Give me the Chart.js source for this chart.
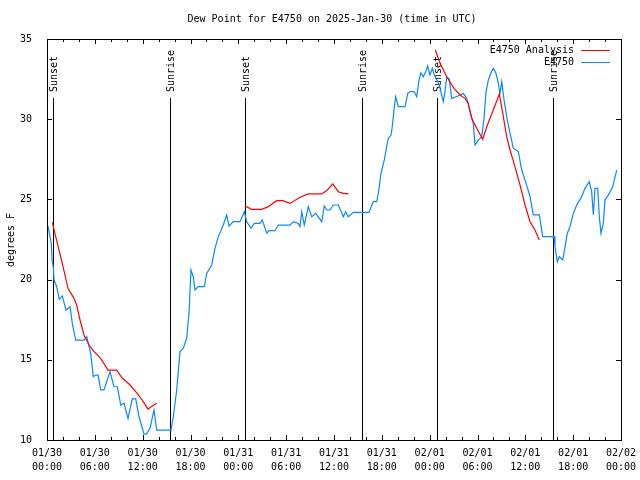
<!DOCTYPE html>
<html>
<head>
<meta charset="utf-8">
<script src="https://cdn.jsdelivr.net/npm/chart.js@4/dist/chart.umd.min.js"></script>
<style>
html,body{margin:0;padding:0;background:#fff;}
#c{display:block;}
</style>
</head>
<body>
<canvas id="c" width="640" height="480"></canvas>
<script>
// ---- DATA (hours since 2025-01-30 00:00 UTC) ----
const chartTitle = "Dew Point for E4750 on 2025-Jan-30 (time in UTC)";
const yAxisLabel = "degrees F";
const seriesNames = ["E4750 Analysis", "E4750"];

const xTickLabels = [
  ["01/30","00:00"],["01/30","06:00"],["01/30","12:00"],["01/30","18:00"],
  ["01/31","00:00"],["01/31","06:00"],["01/31","12:00"],["01/31","18:00"],
  ["02/01","00:00"],["02/01","06:00"],["02/01","12:00"],["02/01","18:00"],
  ["02/02","00:00"]
];
const yTicks = [10, 15, 20, 25, 30, 35];

const sunHours = [0.79, 15.47, 24.88, 39.55, 48.96, 63.51];
const sunLabels = ["Sunset", "Sunrise", "Sunset", "Sunrise", "Sunset", "Sunrise"];

const obsHours = [
  0.13,0.54,0.63,0.79,0.88,1.22,1.54,1.92,2.38,2.89,3.17,3.6,4.64,4.98,5.48,5.81,6.11,6.4,6.74,7.15,
  7.9,8.4,8.82,9.25,9.66,10.16,10.7,11.13,11.54,12.17,12.46,12.92,13.42,13.76,15.55,15.84,16.27,16.68,17.1,17.52,
  17.81,18.06,18.35,18.56,18.98,19.73,20.03,20.66,21.07,21.49,22.11,22.54,22.83,23.37,24.21,24.75,25.05,25.59,26.0,26.72,
  27.0,27.56,27.85,28.6,29.01,30.48,30.9,31.52,31.74,31.95,32.27,32.78,33.2,33.7,34.46,34.78,35.09,35.5,35.91,36.54,
  37.17,37.47,37.79,38.42,40.39,40.93,41.36,41.56,41.9,42.31,42.61,42.81,43.15,43.31,43.57,43.74,44.07,44.91,45.25,45.53,
  46.07,46.37,46.66,46.91,47.2,47.5,47.75,48.04,48.33,48.58,49.21,49.71,49.92,50.14,50.46,50.76,51.31,51.81,52.22,52.65,
  53.06,53.47,53.69,54.1,54.53,54.82,55.07,55.36,55.66,55.98,56.32,56.61,56.82,57.04,57.33,57.66,57.99,58.49,59.12,59.55,
  60.09,60.59,61.0,61.75,62.18,63.6,63.72,64.01,64.26,64.69,64.98,65.27,65.6,66.02,66.44,67.07,67.48,68.02,68.32,68.53,
  68.74,69.08,69.28,69.49,69.78,69.99,70.41,70.96,71.46
];
const obsDew = [
  23.34,22.26,21.2,20.8,19.97,19.56,18.77,18.98,18.1,18.31,17.28,16.23,16.23,16.44,15.4,13.95,14.05,14.05,13.12,13.12,
  14.26,13.32,13.32,12.18,12.3,11.35,12.56,12.56,11.45,10.37,10.37,10.73,11.87,10.62,10.62,11.45,13.12,15.51,15.72,16.34,
  17.9,20.6,20.18,19.35,19.56,19.56,20.39,20.91,21.95,22.68,23.4,24.03,23.34,23.61,23.61,24.23,23.61,23.2,23.51,23.51,
  23.72,22.89,23.05,23.05,23.4,23.4,23.61,23.5,23.3,24.23,23.4,24.55,23.92,24.13,23.61,24.59,24.34,24.34,24.65,24.65,
  23.92,24.23,23.92,24.19,24.19,24.86,24.86,25.38,26.63,27.46,28.29,28.81,29.01,29.53,30.78,31.4,30.78,30.78,31.61,31.72,
  31.72,31.4,32.44,32.9,32.65,32.96,33.32,32.76,33.17,32.76,32.13,31.09,31.72,32.65,32.5,31.3,31.4,31.51,31.61,31.3,
  30.47,29.74,28.39,28.7,28.91,30.06,31.72,32.44,32.86,33.17,32.86,32.24,31.61,32.34,31.2,30.16,29.33,28.19,27.98,26.83,
  26.0,25.17,24.03,24.03,22.68,22.68,22.05,21.12,21.43,21.22,22.05,22.89,23.3,24.13,24.65,25.17,25.69,26.1,25.48,24.03,
  25.69,25.69,23.92,22.89,23.51,24.96,25.27,25.79,26.83
];

const anaHours = [
  0.67,1.09,1.92,2.63,3.39,3.72,4.14,4.64,5.27,5.9,6.74,7.65,8.74,9.45,10.29,11.13,11.95,12.67,13.21,13.76,
  19.0,
  24.84,25.68,26.93,27.76,28.81,29.57,30.48,31.74,32.78,34.46,35.09,35.84,36.54,37.17,37.79,
  43.0,
  48.71,49.3,50.14,51.05,51.81,52.43,52.85,53.27,53.9,54.65,55.16,55.98,56.74,57.24,57.66,58.08,58.7,59.33,59.96,60.59,61.21,61.75
];
const anaDew = [
  23.57,22.68,21.01,19.46,18.83,18.42,17.48,16.55,15.92,15.51,15.09,14.36,14.36,13.85,13.49,13.01,12.49,11.93,12.12,12.29,
  null,
  24.59,24.38,24.38,24.55,24.92,24.92,24.75,25.13,25.34,25.34,25.55,25.96,25.48,25.38,25.34,
  null,
  34.31,33.48,32.65,31.92,31.51,31.3,30.99,30.06,29.43,28.75,29.53,30.57,31.57,30.16,28.91,28.08,27.04,25.9,24.65,23.61,23.09,22.47
];

// ---- STYLE ----
const FONT = "'DejaVu Sans Mono', 'Liberation Mono', monospace";
const RED = "#ff0000";
const BLUE = "#0a88ff";

const gnuplotDecor = {
  id: 'gnuplotDecor',
  beforeDatasetsDraw(chart) {
    const ctx = chart.ctx, xs = chart.scales.x, a = chart.chartArea;
    ctx.save();
    ctx.strokeStyle = '#000';
    ctx.lineWidth = 1;
    ctx.fillStyle = '#000';
    ctx.font = '10px ' + FONT;
    sunHours.forEach((h, i) => {
      const x = Math.round(xs.getPixelForValue(h)) + 0.5;
      ctx.beginPath();
      ctx.moveTo(x, 98);
      ctx.lineTo(x, a.bottom);
      ctx.stroke();
      ctx.save();
      ctx.translate(x + 1, 92);
      ctx.rotate(-Math.PI / 2);
      ctx.textAlign = 'left';
      ctx.textBaseline = 'middle';
      ctx.fillText(sunLabels[i], 0, 0);
      ctx.restore();
    });
    ctx.restore();
  },
  afterDraw(chart) {
    const ctx = chart.ctx, xs = chart.scales.x, ys = chart.scales.y, a = chart.chartArea;
    ctx.save();
    ctx.strokeStyle = '#000';
    ctx.lineWidth = 1;
    // box
    ctx.strokeRect(Math.round(a.left) + 0.5, Math.round(a.top) + 0.5,
                   Math.round(a.right - a.left), Math.round(a.bottom - a.top));
    // x ticks inward (major every 6h, minor every 2h)
    for (let h = 0; h <= 72; h += 2) {
      const x = Math.round(xs.getPixelForValue(h)) + 0.5;
      const len = (h % 6 === 0) ? 5 : 3;
      ctx.beginPath();
      ctx.moveTo(x, a.bottom); ctx.lineTo(x, a.bottom - len);
      ctx.moveTo(x, a.top); ctx.lineTo(x, a.top + len);
      ctx.stroke();
    }
    // y ticks inward both sides
    yTicks.forEach(v => {
      const y = Math.round(ys.getPixelForValue(v)) + 0.5;
      ctx.beginPath();
      ctx.moveTo(a.left, y); ctx.lineTo(a.left + 5, y);
      ctx.moveTo(a.right, y); ctx.lineTo(a.right - 5, y);
      ctx.stroke();
    });
    // title
    ctx.fillStyle = '#000';
    ctx.font = '10px ' + FONT;
    ctx.textAlign = 'center';
    ctx.textBaseline = 'middle';
    ctx.fillText(chartTitle, 332, 19);
    // y label
    ctx.save();
    ctx.translate(11, 240);
    ctx.rotate(-Math.PI / 2);
    ctx.fillText(yAxisLabel, 0, 0);
    ctx.restore();
    // legend
    const legendColors = [RED, BLUE];
    seriesNames.forEach((name, i) => {
      const y = 50 + i * 12;
      ctx.fillStyle = '#000';
      ctx.textAlign = 'right';
      ctx.textBaseline = 'middle';
      ctx.fillText(name, 574, y);
      ctx.strokeStyle = legendColors[i];
      ctx.beginPath();
      ctx.moveTo(581, y + 0.5); ctx.lineTo(610, y + 0.5);
      ctx.stroke();
    });
    ctx.restore();
  }
};

Chart.defaults.font.family = FONT;
Chart.defaults.font.size = 10;
Chart.defaults.color = '#000';

new Chart(document.getElementById('c'), {
  type: 'line',
  data: {
    datasets: [
      {
        label: seriesNames[0],
        data: anaHours.map((h, i) => ({x: h, y: anaDew[i]})),
        borderColor: RED, borderWidth: 1.2, pointRadius: 0, spanGaps: false, tension: 0, fill: false
      },
      {
        label: seriesNames[1],
        data: obsHours.map((h, i) => ({x: h, y: obsDew[i]})),
        borderColor: BLUE, borderWidth: 1.2, pointRadius: 0, tension: 0, fill: false
      }
    ]
  },
  options: {
    responsive: false,
    animation: false,
    devicePixelRatio: 1,
    layout: { padding: { top: 39, right: 19, left: 0, bottom: 0 } },
    plugins: { legend: { display: false }, title: { display: false }, tooltip: { enabled: false } },
    scales: {
      x: {
        type: 'linear', min: 0, max: 72,
        grid: { display: false }, border: { display: false },
        ticks: {
          stepSize: 6, autoSkip: false, maxRotation: 0, minRotation: 0, padding: -1,
          font: { size: 10, lineHeight: 1.35 },
          callback: (v) => xTickLabels[Math.round(v / 6)]
        },
        afterFit: (s) => { s.height = 40; }
      },
      y: {
        min: 10, max: 35,
        grid: { display: false }, border: { display: false },
        ticks: { stepSize: 5, padding: 7, font: { size: 10 } },
        afterFit: (s) => { s.width = 47; }
      }
    }
  },
  plugins: [gnuplotDecor]
});
</script>
</body>
</html>
